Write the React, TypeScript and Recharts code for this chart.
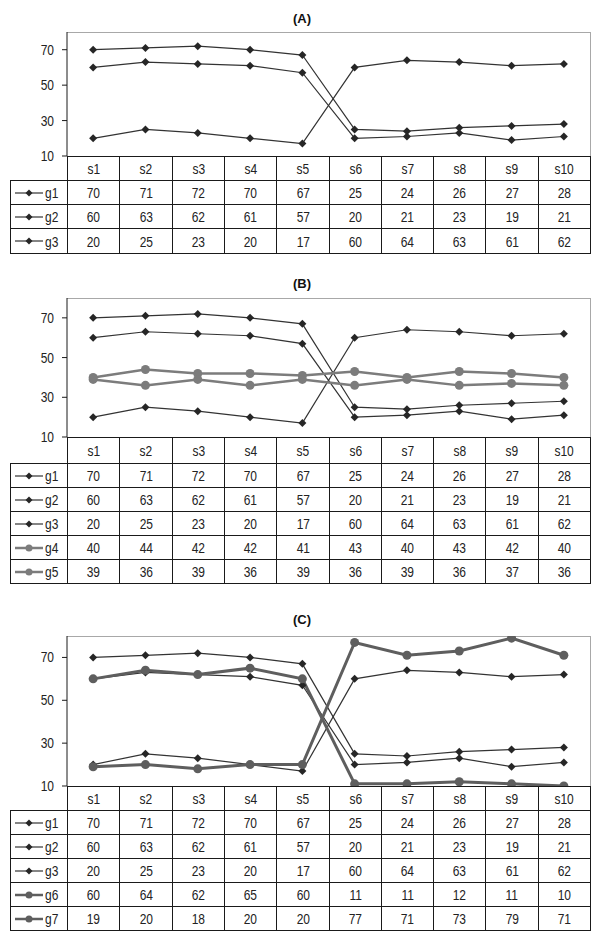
import React from "react";
import { LineChart, Line, XAxis, YAxis } from "recharts";

const samples = ["s1", "s2", "s3", "s4", "s5", "s6", "s7", "s8", "s9", "s10"];
const g1 = [70, 71, 72, 70, 67, 25, 24, 26, 27, 28];
const g2 = [60, 63, 62, 61, 57, 20, 21, 23, 19, 21];
const g3 = [20, 25, 23, 20, 17, 60, 64, 63, 61, 62];
const g4 = [40, 44, 42, 42, 41, 43, 40, 43, 42, 40];
const g5 = [39, 36, 39, 36, 39, 36, 39, 36, 37, 36];
const g6 = [60, 64, 62, 65, 60, 11, 11, 12, 11, 10];
const g7 = [19, 20, 18, 20, 20, 77, 71, 73, 79, 71];
const yTicks = [10, 30, 50, 70];
const yDomain = [10, 80];

const font = '"Liberation Sans", Arial, sans-serif';
const SQUEEZE = 0.8;
const PLOT_LEFT = 67;
const PLOT_RIGHT = 590;
const LEGEND_LEFT = 10;
const colW = (PLOT_RIGHT - PLOT_LEFT) / samples.length;

type Series = { name: string; values: number[]; thick: boolean; color: string };

const thin = (name: string, values: number[]): Series => ({ name, values, thick: false, color: "#333" });

const panels = [
  {
    title: "(A)", titleY: 19, plotTop: 32, plotBottom: 156, headerH: 24, rowH: 24.2,
    series: [thin("g1", g1), thin("g2", g2), thin("g3", g3)],
  },
  {
    title: "(B)", titleY: 284, plotTop: 298, plotBottom: 437, headerH: 25.5, rowH: 24.1,
    series: [thin("g1", g1), thin("g2", g2), thin("g3", g3),
      { name: "g4", values: g4, thick: true, color: "#7c7c7c" },
      { name: "g5", values: g5, thick: true, color: "#7c7c7c" }],
  },
  {
    title: "(C)", titleY: 620, plotTop: 636, plotBottom: 786, headerH: 24, rowH: 24,
    series: [thin("g1", g1), thin("g2", g2), thin("g3", g3),
      { name: "g6", values: g6, thick: true, color: "#5e5e5e" },
      { name: "g7", values: g7, thick: true, color: "#5e5e5e" }],
  },
];

const Diamond = (props: any) => {
  const { cx, cy, index } = props;
  if (cx == null || cy == null) return <g key={index} />;
  return (
    <path key={index} d={`M${cx},${cy - 4}L${cx + 4},${cy}L${cx},${cy + 4}L${cx - 4},${cy}Z`} fill="#262626" />
  );
};

const makeCircle = (color: string) => (props: any) => {
  const { cx, cy, index } = props;
  if (cx == null || cy == null) return <g key={index} />;
  return <circle key={index} cx={cx} cy={cy} r={4.5} fill={color} />;
};

// narrow tick text, the original uses a condensed bitmap font
const YTick = (props: any) => {
  const { x, y, payload } = props;
  return (
    <text
      transform={`translate(${x},${y}) scale(${SQUEEZE},1)`}
      textAnchor="end"
      dominantBaseline="central"
      fill="#222"
      fontSize={15}
      fontFamily={font}
    >
      {payload.value}
    </text>
  );
};

function LegendKey({ s }: { s: Series }) {
  return (
    <svg width={30} height={12} style={{ display: "block" }}>
      <line x1={1} y1={6} x2={29} y2={6} stroke={s.color} strokeWidth={s.thick ? 2.5 : 1.2} />
      {s.thick ? (
        <circle cx={15} cy={6} r={3.5} fill={s.color} />
      ) : (
        <path d="M15,2.5L18.5,6L15,9.5L11.5,6Z" fill="#262626" />
      )}
    </svg>
  );
}

function Cell({ x0, x1, y0, y1, children, align = "center" }: any) {
  return (
    <div
      style={{
        position: "absolute", left: x0, top: y0, width: x1 - x0 + 1, height: y1 - y0 + 1,
        boxSizing: "border-box", border: "1px solid #1a1a1a", display: "flex", alignItems: "center",
        justifyContent: align, fontFamily: font, fontSize: 15, color: "#222",
      }}
    >
      {children}
    </div>
  );
}

const Narrow = ({ children }: any) => (
  <span style={{ display: "inline-block", transform: `scaleX(${SQUEEZE})` }}>{children}</span>
);

function Panel({ p }: { p: (typeof panels)[number] }) {
  const plotH = p.plotBottom - p.plotTop;
  const data = samples.map((s, i) => {
    const row: any = { s };
    p.series.forEach((sr) => (row[sr.name] = sr.values[i]));
    return row;
  });
  const xs = samples.map((_, i) => Math.round(PLOT_LEFT + i * colW)).concat([PLOT_RIGHT]);
  const rowEdges = [p.plotBottom, Math.round(p.plotBottom + p.headerH)];
  p.series.forEach((_, i) => rowEdges.push(Math.round(p.plotBottom + p.headerH + (i + 1) * p.rowH)));

  return (
    <>
      <div
        style={{
          position: "absolute", left: 0, width: 604, top: p.titleY - 8, height: 16, lineHeight: "16px",
          textAlign: "center", fontFamily: font, fontWeight: "bold", fontSize: 13, color: "#111",
        }}
      >
        {p.title}
      </div>
      <div
        style={{
          position: "absolute", left: PLOT_LEFT, top: p.plotTop, width: PLOT_RIGHT - PLOT_LEFT + 1,
          height: plotH, boxSizing: "border-box", borderTop: "1px solid #a8a8a8", borderRight: "1px solid #a8a8a8",
        }}
      />
      <div style={{ position: "absolute", left: 0, top: p.plotTop - 10 }}>
        <LineChart width={604} height={plotH + 20} data={data} margin={{ top: 10, right: 604 - PLOT_RIGHT, bottom: 10, left: PLOT_LEFT - 60 }}>
          <XAxis dataKey="s" hide padding={{ left: colW / 2, right: colW / 2 }} />
          <YAxis
            width={60}
            domain={yDomain}
            ticks={yTicks}
            allowDataOverflow
            axisLine={{ stroke: "#1a1a1a" }}
            tickLine={{ stroke: "#1a1a1a" }}
            tickSize={5}
            tickMargin={8}
            tick={<YTick />}
          />
          {p.series.map((s) => (
            <Line
              key={s.name}
              type="linear"
              dataKey={s.name}
              stroke={s.color}
              strokeWidth={s.thick ? (p.title === "(C)" ? 3 : 2.5) : 1.2}
              dot={s.thick ? makeCircle(s.color) : Diamond}
              activeDot={false}
              isAnimationActive={false}
            />
          ))}
        </LineChart>
      </div>
      {samples.map((s, i) => (
        <Cell key={"h" + s} x0={xs[i]} x1={xs[i + 1]} y0={rowEdges[0]} y1={rowEdges[1]}>
          <Narrow>{s}</Narrow>
        </Cell>
      ))}
      {p.series.map((sr, r) => (
        <React.Fragment key={sr.name}>
          <Cell x0={LEGEND_LEFT} x1={PLOT_LEFT} y0={rowEdges[r + 1]} y1={rowEdges[r + 2]} align="flex-start">
            <div style={{ display: "flex", alignItems: "center", paddingLeft: 3 }}>
              <LegendKey s={sr} />
              <span style={{ display: "inline-block", transform: `scaleX(${SQUEEZE})`, transformOrigin: "left center", marginLeft: 1 }}>
                {sr.name}
              </span>
            </div>
          </Cell>
          {sr.values.map((v, i) => (
            <Cell key={i} x0={xs[i]} x1={xs[i + 1]} y0={rowEdges[r + 1]} y1={rowEdges[r + 2]}>
              <Narrow>{v}</Narrow>
            </Cell>
          ))}
        </React.Fragment>
      ))}
    </>
  );
}

export default function App() {
  return (
    <div style={{ position: "absolute", left: 0, top: 0, width: 604, height: 939, background: "#fff", overflow: "hidden" }}>
      {panels.map((p) => (
        <Panel key={p.title} p={p} />
      ))}
    </div>
  );
}
